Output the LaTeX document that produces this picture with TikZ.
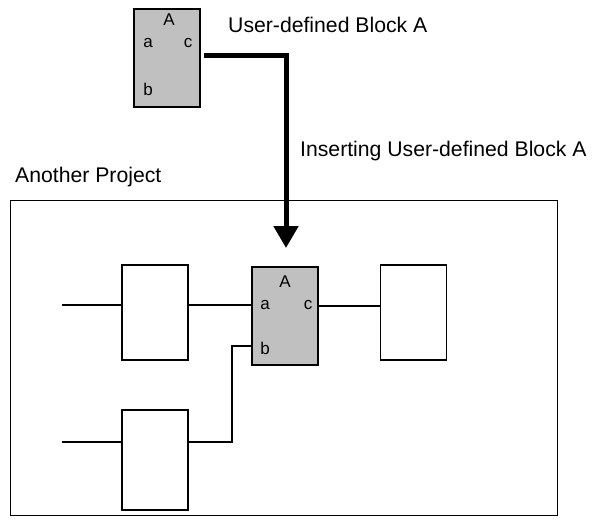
\documentclass[tikz,border=0pt]{standalone}
\usepackage{fontspec}
\setmainfont{Liberation Sans}
\usetikzlibrary{arrows.meta}
\begin{document}
\begin{tikzpicture}[x=1pt,y=-1pt,
  txt/.style={font=\fontsize{21.2}{24}\selectfont, inner sep=0pt, anchor=base west},
  pin/.style={font=\fontsize{17}{19}\selectfont, inner sep=0pt},
  ublock/.style={draw, line width=1.6pt, fill={rgb,255:red,192;green,192;blue,192}, minimum width=66, minimum height=98, inner sep=0pt},
  wbox/.style={draw, line width=1.2pt, fill=white, minimum width=66, minimum height=95, inner sep=0pt},
  wire/.style={line width=1.2pt},
  bigarrow/.style={line width=5pt, -{Triangle[width=24pt,length=22pt]}}
]
\useasboundingbox (0,0) rectangle (594,525);
% outer project frame
\node[draw, line width=1pt, minimum width=547, minimum height=315, inner sep=0pt] (proj) at (283.5,357.5) {};
\node[txt] (projlbl) at (15,182) {Another Project};
% top user-defined block
\node[ublock] (ua) at (167,58) {};
\node[pin] (uaA) at (169,20) {A};
\node[pin] (uaa) at (148,43) {a};
\node[pin] (uac) at (188,43) {c};
\node[pin] (uab) at (148,89) {b};
\node[txt] (ulbl) at (228,32) {User-defined Block A};
\node[txt] (ilbl) at (300,156) {Inserting User-defined Block A};
% inner blocks
\node[wbox] (b1) at (155,312.5) {};
\node[ublock] (g) at (285,316) {};
\node[pin] (gA) at (285,282) {A};
\node[pin] (ga) at (265,305) {a};
\node[pin] (gc) at (308,305) {c};
\node[pin] (gb) at (265,348) {b};
\node[wbox] (b3) at (413.5,312.5) {};
\node[wbox, minimum height=100] (b2) at (155,460) {};
% coordinates
\coordinate (s) at (204,55);
\coordinate (corner) at (286,55);
\coordinate (tip) at (286,248);
\coordinate (in1) at (62,305);
\coordinate (in2) at (62,442);
\coordinate (ja) at (252,305);
\coordinate (jc) at (318,306);
\coordinate (jb) at (252,346);
\coordinate (k1) at (232,442);
\coordinate (k2) at (232,346);
% connectors
\draw[bigarrow] (s) -- (corner) -- (tip);
\draw[wire] (in1) -- (b1.west |- in1);
\draw[wire] (b1.east |- ja) -- (ja);
\draw[wire] (jc) -- (b3.west |- jc);
\draw[wire] (in2) -- (b2.west |- in2);
\draw[wire] (b2.east |- k1) -- (k1) -- (k2) -- (jb);
\end{tikzpicture}
\end{document}
